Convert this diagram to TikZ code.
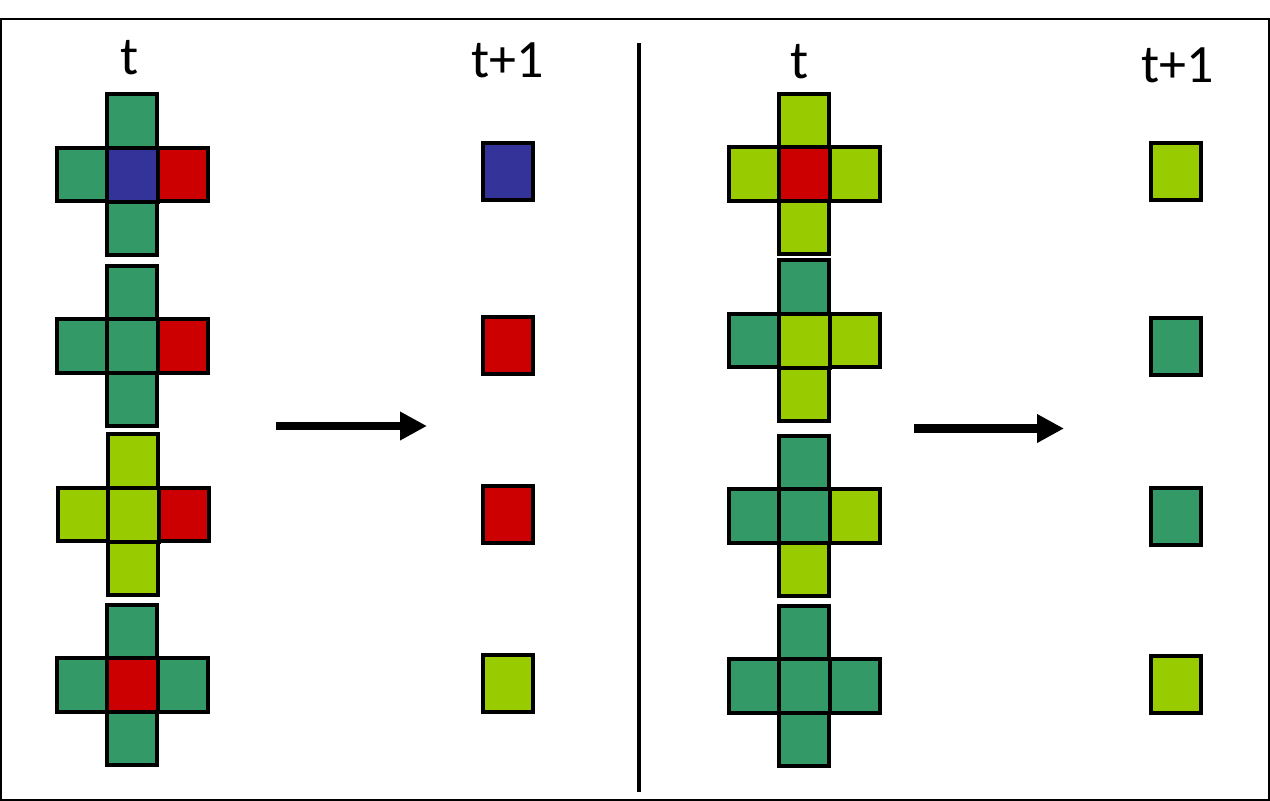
\documentclass[tikz,border=0pt]{standalone}
\usepackage{fontspec}
\setmainfont{Carlito}
\usetikzlibrary{arrows.meta}
\definecolor{cg}{HTML}{339966}
\definecolor{cl}{HTML}{99CC00}
\definecolor{cr}{HTML}{CC0000}
\definecolor{cb}{HTML}{333399}
\tikzset{
  cell/.style={draw=black, line width=4pt, minimum width=50pt, minimum height=53.5pt, inner sep=0pt, outer sep=0pt},
  midcell/.style={cell, minimum width=51pt, minimum height=54pt},
  outcell/.style={draw=black, line width=4pt, minimum width=50pt, minimum height=57pt, inner sep=0pt, outer sep=0pt},
  lbl/.style={font=\fontsize{54}{60}\selectfont, inner sep=0pt},
  bigarrow/.style={line width=8.5pt, -{Triangle[length=27pt,width=27pt]}},
}
\newcommand\crossat[8]{%
  \node[cell, fill=#4] (#1t) at (#2,#3-53.5) {};
  \node[cell, fill=#5] (#1l) at (#2-50.5,#3) {};
  \node[cell, fill=#7] (#1r) at (#2+50.5,#3) {};
  \node[cell, fill=#8] (#1b) at (#2,#3+53.5) {};
  \node[midcell, fill=#6] (#1c) at (#2,#3) {};
}
\begin{document}
\begin{tikzpicture}[x=1pt,y=-1pt]
\useasboundingbox (0,0) rectangle (1270,801);
\draw[line width=2pt] (1,18.5) rectangle (1269,800);
\coordinate (dtop) at (639,43);
\coordinate (dbot) at (639,792);
\draw[line width=4.5pt] (dtop) -- (dbot);
% labels
\node[lbl] (tl) at (130,58) {t};
\node[lbl] (tl1) at (508,60) {t+1};
\node[lbl] (tr) at (800,62) {t};
\node[lbl] (tr1) at (1178,65) {t+1};
% left crosses
\crossat{La}{132}{174.5}{cg}{cg}{cb}{cr}{cg}
\crossat{Lb}{132}{346}{cg}{cg}{cg}{cr}{cg}
\crossat{Lc}{133}{514.5}{cl}{cl}{cl}{cr}{cl}
\crossat{Ld}{132}{685}{cg}{cg}{cr}{cg}{cg}
% right crosses
\crossat{Ra}{804}{174}{cl}{cl}{cr}{cl}{cl}
\crossat{Rb}{804}{340.5}{cg}{cg}{cl}{cl}{cl}
\crossat{Rc}{804}{516}{cg}{cg}{cg}{cl}{cl}
\crossat{Rd}{804}{686}{cg}{cg}{cg}{cg}{cg}
% outputs
\node[outcell, fill=cb] (Oa) at (508,171.5) {};
\node[outcell, fill=cr] (Ob) at (508,345) {};
\node[outcell, fill=cr] (Oc) at (508,514) {};
\node[outcell, fill=cl] (Od) at (508,683.5) {};
\node[outcell, fill=cl] (Pa) at (1175.5,171.5) {};
\node[outcell, fill=cg] (Pb) at (1175.5,346.5) {};
\node[outcell, fill=cg] (Pc) at (1175.5,516) {};
\node[outcell, fill=cl] (Pd) at (1175.5,684) {};
% arrows
\coordinate (a1s) at (276,426);
\coordinate (a1e) at (427,426);
\coordinate (a2s) at (914,428.5);
\coordinate (a2e) at (1064,428.5);
\draw[bigarrow] (a1s) -- (a1e);
\draw[bigarrow] (a2s) -- (a2e);
\end{tikzpicture}
\end{document}
